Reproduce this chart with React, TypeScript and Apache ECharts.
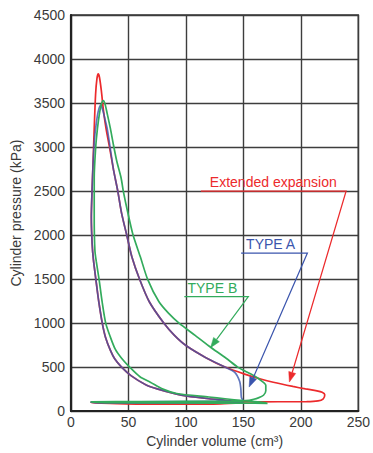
import React, { useEffect, useRef } from "react";
import * as echarts from "echarts";

// Pressure-volume loops: [cylinder volume (cm3), cylinder pressure (kPa)]
const extendedExpansion: [number, number][] = [
  [150, 108], [140, 114], [134, 123], [120, 140], [100, 172], [92, 192], [75, 252], [65, 300],
  [52.5, 400], [44, 500], [38, 595], [34.3, 690], [30, 840], [27.2, 1000], [24.2, 1240], [21.7, 1489],
  [19.5, 1720], [18.4, 1900], [17.7, 2200], [18.3, 2500], [19, 2750], [20.2, 3209], [21.4, 3600],
  [22.6, 3780], [23.7, 3830], [24.8, 3790], [26.4, 3640], [28.2, 3420], [30.5, 3209], [33.5, 3000],
  [37, 2740], [40.7, 2500], [44, 2250], [48.5, 2000], [53, 1750], [59.6, 1500], [68, 1245],
  [80.7, 1000], [90, 860], [100, 745], [117, 610], [134, 500], [151, 420], [165, 365],
  [176, 328], [193, 280], [204, 252], [214, 230], [218.5, 214], [220.8, 185], [219.5, 140],
  [215, 116], [205, 107], [180, 106], [150, 105], [100, 103], [60, 101], [18, 100],
  [17.5, 95], [40, 86], [60, 80], [100, 78], [130, 82], [150, 95]
];

const typeA: [number, number][] = [
  [150, 108], [140, 114], [134, 123], [120, 140], [100, 172], [92, 192], [75, 252], [65, 300],
  [52.5, 400], [44, 500], [38, 595], [34.3, 690], [30, 840], [27.2, 1000], [24.2, 1240], [21.7, 1489],
  [19.5, 1720], [18.4, 1900], [17.7, 2200], [18.3, 2500], [19.3, 2835], [20.5, 3100], [21.8, 3250],
  [23.6, 3400], [25.9, 3478], [27.6, 3420], [29.5, 3320], [31.5, 3209], [34, 3000], [37, 2740],
  [40.7, 2500], [44, 2250], [48.5, 2000], [53, 1750], [59.6, 1500], [68, 1245], [80.7, 1000],
  [90, 860], [100, 745], [117, 610], [134, 500], [142.5, 440], [146.7, 340],
  [147.8, 250], [148.2, 160], [149.5, 118], [145, 111], [100, 109], [60, 106], [18, 104],
  [17.5, 99], [30, 93], [80, 90], [120, 92], [150, 100]
];

const typeB: [number, number][] = [
  [170, 95], [160, 108], [150, 118], [134, 140], [120, 160], [92, 200], [80, 250], [69, 329],
  [60, 390], [51, 500], [44, 600], [38.5, 703], [34, 850], [30.2, 1000], [27, 1250], [24.4, 1500],
  [22, 1700], [20.8, 1825], [20.2, 2200], [20.2, 2648], [21.5, 3000], [23, 3209], [25, 3400],
  [26.6, 3495], [28, 3527], [29.5, 3495], [31.5, 3380], [34.3, 3209], [37, 3020], [39.9, 2835],
  [43.6, 2648], [45.5, 2500], [49.5, 2250], [54, 2000], [60.4, 1750], [66.6, 1500], [76.4, 1245],
  [85, 1110], [94, 1000], [108, 860], [120, 740], [135, 600], [145, 500], [152, 450],
  [160, 395], [166, 340], [169.5, 292], [169.5, 230], [167.5, 180], [163, 150], [159, 135],
  [152, 118], [145, 112], [100, 110], [60, 108], [18, 106],
  [17.5, 100], [40, 95], [100, 92], [150, 90], [171, 88]
];

const RED = "#ec2a2c";
const BLUE = "#3b55ad";
const GREEN = "#33ab5c";

// Annotation callouts, in data units
const callouts = [
  { label: "Extended expansion", color: RED, textAt: [176, 2600], underline: [[113, 2500], [239.4, 2500]], tip: [190, 330] },
  { label: "TYPE A", color: BLUE, textAt: [173.7, 1900], underline: [[148, 1795], [205.7, 1795]], tip: [155, 273] },
  { label: "TYPE B", color: GREEN, textAt: [123, 1395], underline: [[98.6, 1301], [154.3, 1301]], tip: [121.4, 721] },
];

const FONT = "'Liberation Sans', Arial, Helvetica, sans-serif";

export default function App() {
  const ref = useRef<HTMLDivElement>(null);

  useEffect(() => {
    if (!ref.current) return;
    const chart = echarts.init(ref.current, null, { renderer: "svg" });
    chart.setOption({
      animation: false,
      backgroundColor: "#ffffff",
      textStyle: { fontFamily: FONT },
      grid: {
        left: 71, right: 7, top: 15, bottom: 37,
        show: true, borderColor: "#333", borderWidth: 1.5, backgroundColor: "transparent",
      },
      xAxis: {
        type: "value", min: 0, max: 250, interval: 50,
        name: "Cylinder volume (cm³)", nameLocation: "middle", nameGap: 18,
        nameTextStyle: { fontSize: 14, color: "#3a3a3a", fontFamily: FONT },
        axisLine: { show: true, onZero: false, lineStyle: { color: "#222", width: 2.2 } },
        axisTick: { show: false },
        axisLabel: { fontSize: 14, color: "#3a3a3a", margin: 4, fontFamily: FONT },
        splitLine: { show: true, lineStyle: { color: "#3d3d3d", width: 1.4 } },
      },
      yAxis: {
        type: "value", min: 0, max: 4500, interval: 500,
        name: "Cylinder pressure (kPa)", nameLocation: "middle", nameGap: 46,
        nameTextStyle: { fontSize: 14, color: "#3a3a3a", fontFamily: FONT },
        axisLine: { show: true, onZero: false, lineStyle: { color: "#222", width: 2.2 } },
        axisTick: { show: false },
        axisLabel: { fontSize: 14, color: "#3a3a3a", margin: 6, fontFamily: FONT, formatter: (v: number) => String(v) },
        splitLine: { show: true, lineStyle: { color: "#3d3d3d", width: 1.4 } },
      },
      series: [
        { name: "Extended expansion", type: "line", data: extendedExpansion, symbol: "none", smooth: 0.25,
          lineStyle: { color: RED, width: 1.7 }, z: 3 },
        { name: "TYPE A", type: "line", data: typeA, symbol: "none", smooth: 0.25,
          lineStyle: { color: BLUE, width: 1.7, opacity: 0.8 }, z: 4 },
        { name: "TYPE B", type: "line", data: typeB, symbol: "none", smooth: 0.25,
          lineStyle: { color: GREEN, width: 1.7 }, z: 5 },
      ],
    });

    const toPx = (p: number[]) => chart.convertToPixel({ gridIndex: 0 }, p) as number[];
    const graphics: any[] = [];
    callouts.forEach((c) => {
      const t = toPx(c.textAt);
      const a = toPx(c.underline[0]);
      const b = toPx(c.underline[1]);
      const tip = toPx(c.tip);
      const dx = tip[0] - b[0];
      const dy = tip[1] - b[1];
      const len = Math.hypot(dx, dy);
      const ux = dx / len, uy = dy / len;
      const L = 10, W = 3.6;
      const base = [tip[0] - ux * L, tip[1] - uy * L];
      const nx = -uy, ny = ux;
      graphics.push({
        type: "polyline", z: 100, silent: true,
        shape: { points: [a, b, base] },
        style: { stroke: c.color, lineWidth: 1.2, fill: "none" },
      });
      graphics.push({
        type: "polygon", z: 100, silent: true,
        shape: { points: [tip, [base[0] + nx * W, base[1] + ny * W], [base[0] - nx * W, base[1] - ny * W]] },
        style: { fill: c.color, stroke: c.color, lineWidth: 0.5 },
      });
      graphics.push({
        type: "text", z: 101, silent: true, x: t[0], y: t[1],
        style: { text: c.label, fill: c.color, font: `14px ${FONT}`, textAlign: "center", textVerticalAlign: "middle" },
      });
    });
    chart.setOption({ graphic: graphics });

    return () => chart.dispose();
  }, []);

  return (
    <div
      ref={ref}
      style={{ position: "fixed", left: 0, top: 0, width: 373, height: 453, background: "#fff" }}
    />
  );
}
